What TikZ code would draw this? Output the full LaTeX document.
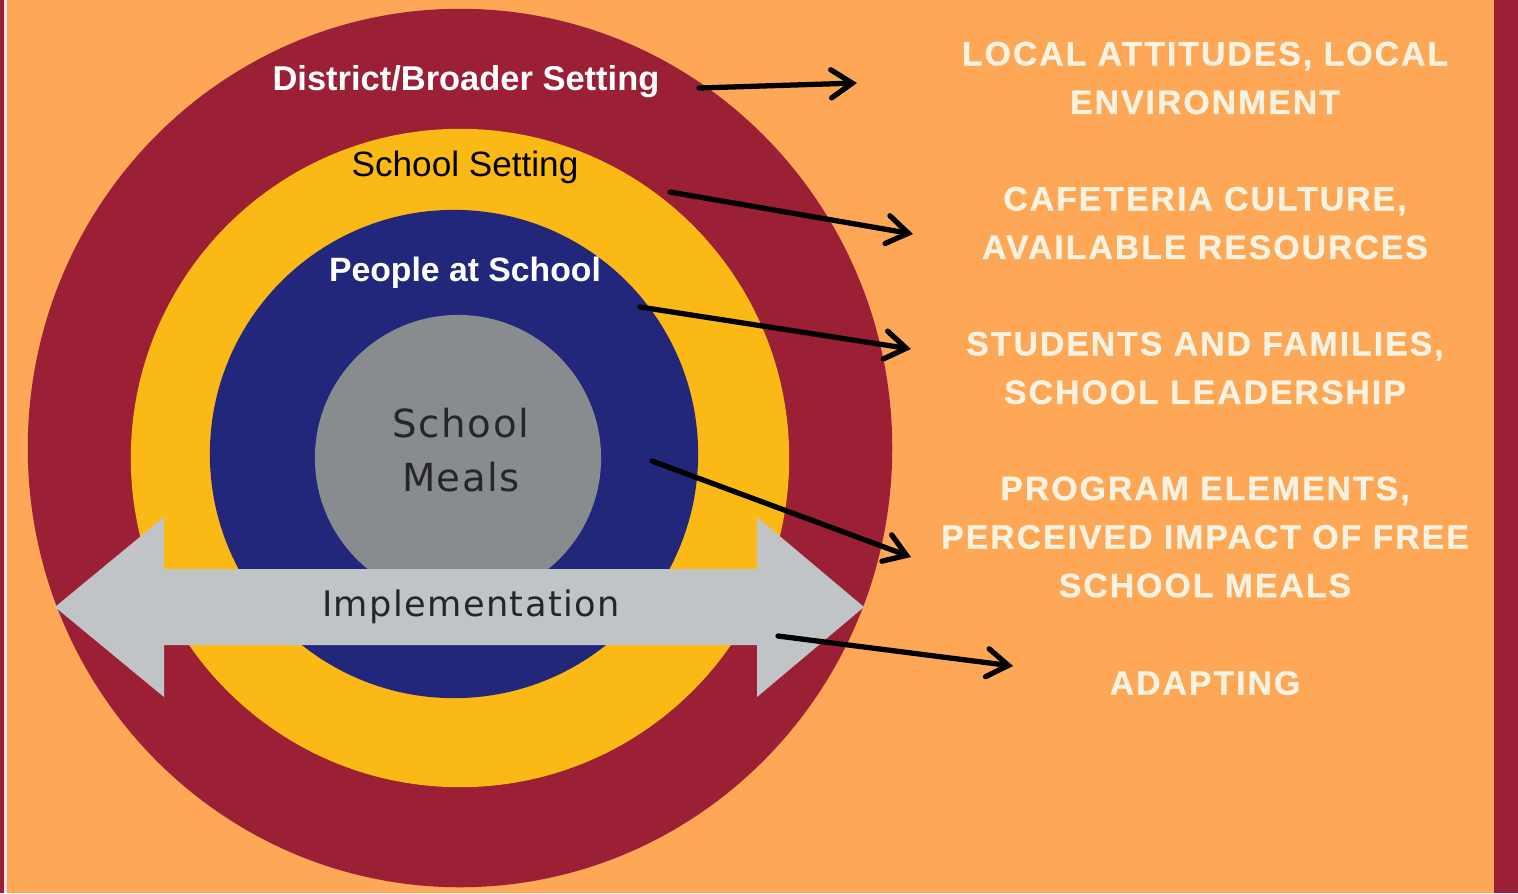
\documentclass[tikz,border=0pt]{standalone}
\usepackage{fontspec}
\usepackage{xcolor}
\setmainfont{Liberation Sans}
\newfontfamily\capsfont[LetterSpace=6,FakeBold=0.8]{Liberation Sans Bold}
\newfontfamily\roundfont[LetterSpace=4]{DejaVu Sans}
\usepackage{tikz}
\usetikzlibrary{arrows.meta,positioning,shapes.geometric}
\definecolor{backorange}{HTML}{FEA857}
\definecolor{ringred}{HTML}{9B2036}
\definecolor{ringyellow}{HTML}{FBB916}
\definecolor{ringblue}{HTML}{22277B}
\definecolor{coregray}{HTML}{898C8F}
\definecolor{implgray}{HTML}{C0C4C6}
\definecolor{cream}{HTML}{F8F3E1}
\definecolor{edgepale}{HTML}{DDE4EA}

\begin{document}
\begin{tikzpicture}[
    x=0.01cm, y=-0.01cm,
    ring/.style={circle, inner sep=0, minimum size=#1},
    ringlabel/.style={inner sep=0, font=\fontsize{10}{12}\selectfont},
    factor/.style={align=center, inner sep=0, text=cream, font=\capsfont\fontsize{9.6}{13.8}\selectfont},
    link/.style={line width=1.5pt, line cap=round, -{Straight Barb[length=6pt,width=8pt,line cap=round]}}]

\useasboundingbox (0,0) rectangle (1518,893);
\fill[backorange] (0,0) rectangle (1518,893);
\fill[ringred] (0,0) rectangle (4,893);
\fill[edgepale] (4,0) rectangle (7,893);
\fill[ringred] (1494,0) rectangle (1518,893);

\node[ellipse, inner sep=0, minimum width=8.64cm, minimum height=8.78cm, fill=ringred] (district) at (460,448) {};
\node[ring=6.58cm, fill=ringyellow] (school) at (460,458) {};
\node[ring=4.88cm, fill=ringblue] (people) at (454,454) {};
\node[ring=2.86cm, fill=coregray] (meals) at (458,458) {};

\node[align=center, inner sep=0, text=black!85, font=\roundfont\fontsize{11}{15.4}\selectfont] (mealstext) at (461,450) {School\\Meals};

\fill[implgray] (55,607) -- (164,517) -- (164,569) -- (757,569) -- (757,517) -- (864,607)
    -- (757,697) -- (757,645) -- (164,645) -- (164,697) -- cycle;
\node[inner sep=0, text=black!85, font=\roundfont\fontsize{10}{12}\selectfont] (impl) at (471,607) {Implementation};

\node[ringlabel, text=white, font=\bfseries\fontsize{9.8}{12}\selectfont] (districttext) at (466,82) {District/Broader Setting};
\node[ringlabel, text=black] (schooltext) at (465,167) {School Setting};
\node[ringlabel, text=white, font=\bfseries\fontsize{9.6}{12}\selectfont] (peopletext) at (465,273) {People at School};

\node[factor] (attitudes) at (1205,78) {LOCAL ATTITUDES, LOCAL\\ENVIRONMENT};
\node[factor] (culture) at (1205,223) {CAFETERIA CULTURE,\\AVAILABLE RESOURCES};
\node[factor] (families) at (1205,368) {STUDENTS AND FAMILIES,\\SCHOOL LEADERSHIP};
\node[factor] (elements) at (1205,537) {PROGRAM ELEMENTS,\\PERCEIVED IMPACT OF FREE\\SCHOOL MEALS};
\node[factor] (adapting) at (1205,683) {ADAPTING};

\coordinate (district-from) at (699,88);
\coordinate (district-to) at (857,83);
\coordinate (school-from) at (670,192);
\coordinate (school-to) at (913,234);
\coordinate (people-from) at (640,307);
\coordinate (people-to) at (911,349);
\coordinate (meals-from) at (652,461);
\coordinate (meals-to) at (911,557);
\coordinate (impl-from) at (778,636);
\coordinate (impl-to) at (1013,666);

\draw[link] (district-from) -- (district-to);
\draw[link] (school-from) -- (school-to);
\draw[link] (people-from) -- (people-to);
\draw[link] (meals-from) -- (meals-to);
\draw[link] (impl-from) -- (impl-to);

\end{tikzpicture}
\end{document}
